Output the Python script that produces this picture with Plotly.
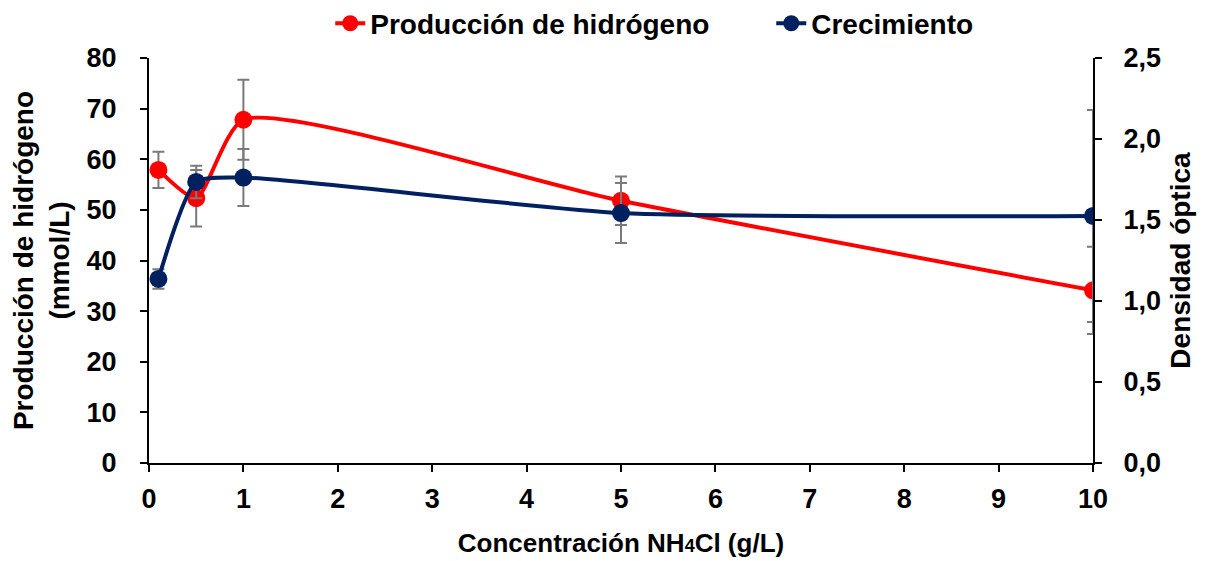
import plotly.graph_objects as go

# NH4Cl concentration (g/L)
conc = [0.1, 0.5, 1, 5, 10]

# hydrogen production (mmol/L) and its error
h2_prod = [57.9, 52.3, 67.8, 51.8, 34.1]
h2_err = [3.6, 5.6, 7.9, 4.8, 8.6]

# growth, optical density and its error
od_growth = [1.136, 1.735, 1.762, 1.543, 1.525]
od_err = [0.06, 0.10, 0.176, 0.185, 0.654]

FONT = "Liberation Sans, Arial, sans-serif"
ERR_COLOR = "#7a7a7a"

fig = go.Figure()

# Hydrogen production
fig.add_trace(
    go.Scatter(
        x=conc,
        y=h2_prod,
        mode="lines+markers",
        name="Producción de hidrógeno",
        line=dict(color="#ff0000", width=4, shape="spline", smoothing=0.6),
        marker=dict(size=18, color="#ff0000"),
        error_y=dict(type="data", array=h2_err, color=ERR_COLOR, thickness=2, width=6),
        yaxis="y",
    )
)

# Growth (optical density)
fig.add_trace(
    go.Scatter(
        x=conc,
        y=od_growth,
        mode="lines+markers",
        name="Crecimiento",
        line=dict(color="#002060", width=4, shape="spline", smoothing=0.6),
        marker=dict(size=18, color="#002060"),
        error_y=dict(type="data", array=od_err, color=ERR_COLOR, thickness=2, width=6),
        yaxis="y2",
    )
)

axis_font = dict(family=FONT, size=27, color="black", weight="bold")
xtitle_font = dict(family=FONT, size=26, color="black", weight="bold")
ytitle_font = dict(family=FONT, size=28, color="black", weight="bold")

common = dict(
    showgrid=False,
    zeroline=False,
    showline=True,
    linecolor="black",
    linewidth=2,
    ticks="outside",
    ticklen=7,
    tickwidth=2,
    tickcolor="black",
    tickfont=axis_font,
)

# page body has an 8px margin, so the figure is 8px smaller than the window
fig.update_layout(
    width=1197,
    height=553,
    margin=dict(l=141, r=112, t=50, b=98, autoexpand=False),
    plot_bgcolor="white",
    paper_bgcolor="white",
    separators=",.",
    showlegend=True,
    legend=dict(
        orientation="h",
        x=0.192,
        y=1.085,
        xanchor="left",
        yanchor="middle",
        font=dict(family=FONT, size=28, color="black", weight="bold"),
        bgcolor="rgba(0,0,0,0)",
        entrywidth=396,
        entrywidthmode="pixels",
    ),
    xaxis=dict(
        range=[0, 10],
        dtick=1,
        ticklabelstandoff=4,
        title=dict(
            text="Concentración NH<span style='font-size:18px'>4</span>Cl (g/L)",
            font=xtitle_font,
            standoff=20,
        ),
        **common,
    ),
    yaxis=dict(
        range=[0, 80],
        dtick=10,
        ticklabelstandoff=18,
        title=dict(
            text="Producción de hidrógeno<br>(mmol/L)",
            font=ytitle_font,
            standoff=10,
        ),
        **common,
    ),
    yaxis2=dict(
        range=[0, 2.5],
        dtick=0.5,
        tickformat=".1f",
        overlaying="y",
        side="right",
        ticklabelstandoff=16,
        title=dict(text="Densidad óptica", font=ytitle_font, standoff=10),
        **common,
    ),
)

fig.write_html("out.html")
